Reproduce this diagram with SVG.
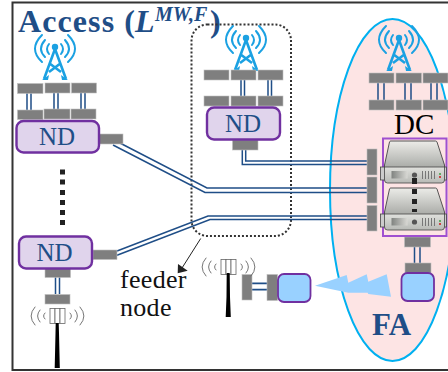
<svg xmlns="http://www.w3.org/2000/svg" width="448" height="372" viewBox="0 0 448 372">
<defs>
<style>
.serif{font-family:"Liberation Serif",serif}
.bar{fill:#7f7f7f;stroke:#bfbfbf;stroke-width:.6}
.nd{fill:#e0d4ec;stroke:#7030a0;stroke-width:2.4}
.blue{fill:#99d1ff;stroke:#7030a0;stroke-width:1.8}
.ndt{font-size:25px;fill:#1f4e87;text-anchor:middle}
.l{fill:none;stroke:#1f4e87;stroke-width:1.5}
.tower{fill:none;stroke:#1ba1e2;stroke-width:2.6}
.wave{fill:none;stroke:#1ba1e2;stroke-width:2;stroke-linecap:round}
.gw{fill:none;stroke:#666;stroke-width:.9;stroke-linecap:round}
</style>
<linearGradient id="top" x1="0" y1="0" x2="0" y2="1"><stop offset="0" stop-color="#ecece8"/><stop offset="1" stop-color="#a8aaa6"/></linearGradient>
<linearGradient id="front" x1="0" y1="0" x2="0" y2="1"><stop offset="0" stop-color="#e0e1dd"/><stop offset="1" stop-color="#b8bab6"/></linearGradient>
<linearGradient id="pan" x1="0" y1="0" x2="1" y2="0"><stop offset="0" stop-color="#808380"/><stop offset="1" stop-color="#d8d8d4"/></linearGradient>
<g id="tw">
<path class="wave" d="M-6-3Q-10 2-6 7M6-3Q10 2 6 7M-10-7Q-18 2-10 10M10-7Q18 2 10 10M-13-12Q-27 2-13 15M13-12Q27 2 13 15"/>
<circle r="3.200" cy="0" fill="#1ba1e2"/>
<path class="tower" d="M0 2L-11 32M0 2L11 32M-6 16L6 25M6 16L-6 25"/>
<path d="M-13 33h6l1-5zM13 33h-6l-1-5z" fill="#1ba1e2"/>
</g>
<g id="ant">
<rect x="-7" y="-7.500" width="5" height="15" fill="#fff" stroke="#666" stroke-width=".8"/>
<rect x="-2" y="-7.500" width="5" height="15" fill="#fff" stroke="#666" stroke-width=".8"/>
<rect x="3" y="-7.500" width="5" height="15" fill="#fff" stroke="#666" stroke-width=".8"/>
<path class="gw" d="M-12-3Q-15 0-12 3M13-3Q16 0 13 3M-17-6Q-22 0-17 6M18-6Q23 0 18 6M-22-9Q-30 0-22 9M23-9Q31 0 23 9"/>
</g>
<g id="srv">
<rect x="-1" y="26" width="5" height="13" fill="#ccc" stroke="#444" stroke-width=".8"/>
<rect x="60" y="26" width="5" height="13" fill="#ccc" stroke="#444" stroke-width=".8"/>
<path d="M9 0H54Q55 0 55.500 1L63 24V27H3V24L8 1Q8.500 0 9 0Z" fill="url(#top)" stroke="#444" stroke-width=".9"/>
<path d="M3 26H63V39Q63 42 60 42H6Q3 42 3 39Z" fill="url(#front)" stroke="#444" stroke-width=".8"/>
<rect x="10" y="30" width="16" height="7.500" fill="url(#pan)"/>
<circle cx="33" cy="34" r="2.600" fill="#555"/>
<path d="M41 30v8M44 30v8M47 30v8M50 30v8M53 30v8" stroke="#777" stroke-width="1"/>
<rect x="57.500" y="32" width="2" height="2" fill="#6a6"/>
<rect x="57.500" y="35" width="2" height="2" fill="#c44"/>
</g>
</defs>
<rect x="12.500" y="2.500" width="440" height="367.500" fill="#fff" stroke="#333" stroke-width="2"/>
<ellipse cx="392.500" cy="190" rx="62.500" ry="171" fill="#fde4e4" stroke="#00b0f0" stroke-width="2"/>
<text class="serif" x="18" y="32" font-size="32" font-weight="bold" fill="#1f4e87" letter-spacing="1.100">Access (</text>
<text class="serif" x="135" y="32" font-size="32" font-weight="bold" font-style="italic" fill="#1f4e87">L</text>
<text class="serif" x="155" y="21" font-size="20" font-weight="bold" font-style="italic" fill="#1f4e87">MW,F</text>
<text class="serif" x="210" y="32" font-size="32" font-weight="bold" fill="#1f4e87">)</text>
<rect x="191.500" y="24.500" width="99.500" height="211.500" rx="16" fill="none" stroke="#333" stroke-width="2" stroke-dasharray="2 2"/>
<g id="connectors">
<g class="l">
<path d="M118 142L207 188H368M113 145L205 192.500H368"/>
<path d="M117 251L208 216H368M117 255.300L210 219.500H368"/>
<path d="M242.300 150V164.500H367M245.700 150V161H367"/>
<path d="M27 93V110M31 93V110M54 93V110M58 93V110M81 93V110M85 93V110"/>
<path d="M55.500 277V294M59.500 277V294"/>
<path d="M241 79V96M244.500 79V96M268 79V96M271.500 79V96"/>
<path d="M378 83V100M384 83V100M405 83V100M411 83V100M431 83V100M437 83V100"/>
<path d="M414.500 246V263M420 246V263"/>
<path d="M251 283.300H267M251 289.700H267" stroke-width="1.800"/>
</g>
<path d="M200.700 238.500L182 268" stroke="#222" stroke-width="1" fill="none"/>
<path id="head" d="M177.700 273.300L178 264L187.700 270.700Z" fill="#222"/>
</g>
<g id="tower1"><use href="#tw" x="55" y="47"/></g>
<g id="tower2"><use href="#tw" x="246" y="38"/></g>
<g id="tower3"><use href="#tw" x="399" y="38"/></g>
<g id="bars">
<rect class="bar" x="17.500" y="83.500" width="25.500" height="10"/><rect class="bar" x="45" y="83" width="25" height="10"/><rect class="bar" x="71.500" y="83" width="25" height="10"/>
<rect class="bar" x="17.500" y="110" width="25.500" height="9.500"/><rect class="bar" x="44" y="109" width="26" height="10"/><rect class="bar" x="71" y="109" width="25" height="10"/>
<rect class="bar" x="99" y="134" width="24" height="10"/>
<rect class="bar" x="204" y="70" width="25" height="10"/><rect class="bar" x="231" y="70" width="25" height="10"/><rect class="bar" x="258" y="70" width="25" height="10"/>
<rect class="bar" x="204" y="96" width="25" height="10"/><rect class="bar" x="231" y="96" width="25" height="10"/><rect class="bar" x="258" y="96" width="25" height="10"/>
<rect class="bar" x="232.500" y="140" width="25.500" height="10"/>
<rect class="bar" x="369" y="73" width="25" height="10"/><rect class="bar" x="396" y="73" width="25.500" height="10"/><rect class="bar" x="423" y="73" width="25" height="10"/>
<rect class="bar" x="369" y="100" width="25" height="10"/><rect class="bar" x="396" y="100" width="25.500" height="10"/><rect class="bar" x="423" y="100" width="25" height="10"/>
<rect class="bar" x="367" y="149" width="10" height="26"/><rect class="bar" x="367" y="177" width="10" height="26"/><rect class="bar" x="367" y="205.500" width="10" height="25.500"/>
<rect class="bar" x="93" y="250" width="24" height="9.500"/>
<rect class="bar" x="45" y="268" width="25.500" height="9.500"/><rect class="bar" x="45" y="294.500" width="25" height="9.500"/>
<rect class="bar" x="404.500" y="237" width="26" height="10"/><rect class="bar" x="405" y="263" width="26" height="10"/>
<rect class="bar" x="242" y="274.500" width="10" height="25.500"/><rect class="bar" x="267" y="274.500" width="10.500" height="26"/>
</g>
<g id="nd1"><rect class="nd" x="16.500" y="121" width="82.500" height="31.500" rx="7"/><text class="serif ndt" x="57" y="145">ND</text></g>
<g id="nd2"><rect class="nd" x="19" y="236.500" width="73" height="32" rx="7"/><text class="serif ndt" x="54.500" y="261">ND</text></g>
<g id="nd3"><rect class="nd" x="207" y="107.500" width="73" height="32" rx="7"/><text class="serif ndt" x="243" y="132">ND</text></g>
<g id="dots" fill="#222"><rect x="60" y="169.500" width="5" height="5"/><rect x="60" y="179.500" width="5" height="5"/><rect x="60" y="190" width="5" height="5"/><rect x="60" y="200" width="5" height="5"/><rect x="60" y="210" width="5" height="5"/><rect x="60" y="220" width="5" height="5"/></g>
<g id="radio1"><use href="#ant" x="57" y="316"/><path d="M55.700 323H58.700L59 333L59.800 368H54.700L55.500 333Z" fill="#000"/></g>
<g id="radio2"><use href="#ant" x="228" y="267"/><path d="M226.700 273H229.700L230 297L230.800 317H225.700L226.500 297Z" fill="#000"/></g>
<g id="blue1"><rect class="blue" x="278" y="274" width="32.500" height="28" rx="6"/></g>
<g id="blue2"><rect class="blue" x="401.500" y="273" width="32.500" height="28" rx="6"/></g>
<path id="bolt" d="M315 285.700L346.700 275L348.300 282.700L366.700 274.300L368.300 281.700L386.700 274.300L391 296.700L368.300 294L367.700 292.700L348.300 292.700Z" fill="#99d1ff"/>
<g id="dc">
<rect x="383" y="138.500" width="63.500" height="97.500" fill="none" stroke="#a050d0" stroke-width="2"/>
<use href="#srv" x="381.500" y="141"/><use href="#srv" x="381.500" y="188"/>
<g fill="#222"><rect x="412" y="178" width="5" height="6"/><rect x="412" y="189" width="5" height="5"/><rect x="412" y="199" width="5" height="5"/><rect x="412" y="209" width="5" height="3"/></g>
<text class="serif" x="394" y="134" font-size="29" fill="#000">DC</text>
</g>
<text class="serif" x="372" y="335" font-size="31" font-weight="bold" fill="#1f4e87">FA</text>
<text class="serif" font-size="26" letter-spacing=".3" fill="#111"><tspan x="120" y="287.500">feeder</tspan><tspan x="120" y="315.500">node</tspan></text>
</svg>
